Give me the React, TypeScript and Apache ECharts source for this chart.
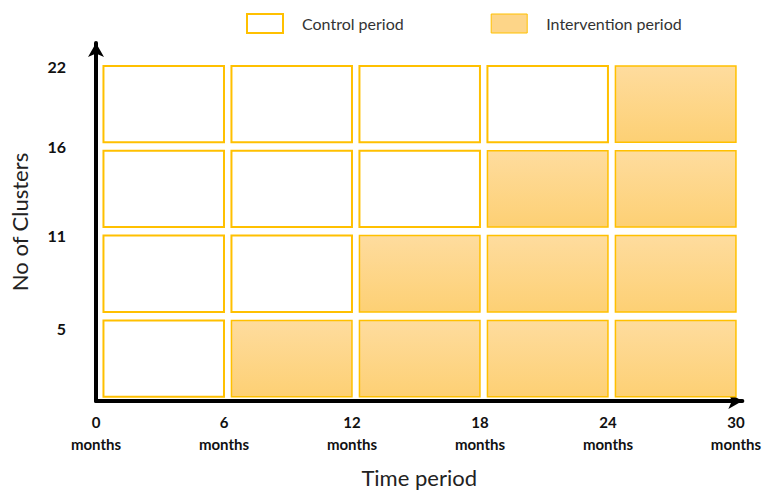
import React, { useEffect, useRef } from "react";
import * as echarts from "echarts";

const timeTicks = [0, 6, 12, 18, 24, 30];
const clusterLabels = ["5", "11", "16", "22"]; // bottom to top row boundaries
// For each row (bottom to top), the index of the period where intervention starts
const interventionStart = [1, 2, 3, 4];
const seriesNames = ["Control period", "Intervention period"];

const periodCount = timeTicks.length - 1;
const controlCells: number[][] = [];
const interventionCells: number[][] = [];
interventionStart.forEach((start, row) => {
  for (let p = 0; p < periodCount; p++) {
    const cell = [timeTicks[p], timeTicks[p + 1], row];
    if (p < start) controlCells.push(cell);
    else interventionCells.push(cell);
  }
});

const BORDER = "#FFC000";
const fillGradient = () =>
  new echarts.graphic.LinearGradient(0, 0, 0, 1, [
    { offset: 0, color: "#FEDC9E" },
    { offset: 1, color: "#FDD074" },
  ]);

const yLabelBase = { fontSize: 16, fontWeight: "bold" as const, color: "#111", fontFamily: "Lato" };

export default function App() {
  const ref = useRef<HTMLDivElement>(null);
  useEffect(() => {
    if (!ref.current) return;
    const chart = echarts.init(ref.current, null, { renderer: "svg" });
    const makeRender = (filled: boolean) => (params: any, api: any) => {
      const x0 = api.value(0);
      const x1 = api.value(1);
      const r = api.value(2);
      const p0 = api.coord([x0 + 0.35, r + 0.95]);
      const p1 = api.coord([x1, r + 0.05]);
      return {
        type: "rect",
        shape: { x: p0[0], y: p0[1], width: p1[0] - p0[0], height: p1[1] - p0[1] },
        style: filled
          ? { fill: fillGradient(), stroke: BORDER, lineWidth: 1.5 }
          : { fill: "#FFFFFF", stroke: BORDER, lineWidth: 2 },
      };
    };
    chart.setOption({
      animation: false,
      textStyle: { fontFamily: "Lato" },
      legend: {
        top: 8,
        left: 241,
        itemWidth: 36,
        itemHeight: 19,
        itemGap: 87,
        textStyle: { fontSize: 16, color: "#333", fontFamily: "Lato", padding: [0, 0, 0, 14] },
        data: [
          { name: seriesNames[0], icon: "rect", itemStyle: { color: "#FFFFFF", borderColor: BORDER, borderWidth: 2 } },
          { name: seriesNames[1], icon: "rect", itemStyle: { color: "#FDD588", borderColor: BORDER, borderWidth: 1 } },
        ],
      },
      grid: { left: 93, right: 19, top: 43, bottom: 87 },
      xAxis: {
        type: "value",
        min: 0,
        max: 30.3,
        interval: 6,
        name: "Time period",
        nameLocation: "middle",
        nameGap: 65,
        nameTextStyle: { fontSize: 22, color: "#222", fontFamily: "Lato" },
        splitLine: { show: false },
        axisTick: { show: false },
        axisLine: {
          show: true,
          symbol: ["none", "arrow"],
          symbolSize: [12, 14],
          lineStyle: { color: "#000", width: 4 },
        },
        axisLabel: {
          margin: 10,
          fontSize: 15,
          fontWeight: "bold",
          color: "#111",
          lineHeight: 22,
          showMaxLabel: true,
          formatter: (v: number) => (timeTicks.includes(v) ? `${v}\nmonths` : ""),
        },
      },
      yAxis: {
        type: "value",
        min: 0,
        max: 4.22,
        interval: 1,
        name: "No of Clusters",
        nameLocation: "middle",
        nameGap: 66,
        nameTextStyle: { fontSize: 22, color: "#222", fontFamily: "Lato" },
        splitLine: { show: false },
        axisTick: { show: false },
        axisLine: {
          show: true,
          symbol: ["none", "arrow"],
          symbolSize: [12, 14],
          lineStyle: { color: "#000", width: 4 },
        },
        axisLabel: {
          margin: 30,
          ...yLabelBase,
          formatter: (v: number) =>
            v >= 1 && v <= 4 && Number.isInteger(v) ? `{r${v}|${clusterLabels[v - 1]}}` : "",
          rich: {
            r1: { ...yLabelBase, padding: [24, 0, 0, 0] },
            r2: { ...yLabelBase, padding: [8, 0, 0, 0] },
            r3: { ...yLabelBase },
            r4: { ...yLabelBase, padding: [10, 0, 0, 0] },
          },
        },
      },
      series: [
        {
          name: seriesNames[0],
          type: "custom",
          renderItem: makeRender(false),
          encode: { x: [0, 1], y: 2 },
          data: controlCells,
          itemStyle: { color: "#FFFFFF", borderColor: BORDER },
        },
        {
          name: seriesNames[1],
          type: "custom",
          renderItem: makeRender(true),
          encode: { x: [0, 1], y: 2 },
          data: interventionCells,
          itemStyle: { color: "#FDD588", borderColor: BORDER },
        },
      ],
    });
    return () => chart.dispose();
  }, []);
  return <div ref={ref} style={{ width: 764, height: 493, position: "absolute", left: 0, top: 0 }} />;
}
